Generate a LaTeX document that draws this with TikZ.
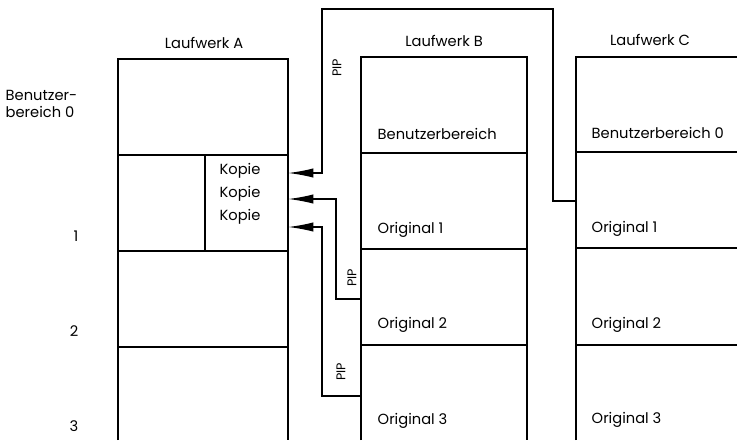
\documentclass[tikz,border=0pt]{standalone}
\usepackage{fontspec}
\setmainfont{Poppins}
\usetikzlibrary{arrows.meta,positioning}

\begin{document}
\begin{tikzpicture}[x=0.75pt,y=-0.75pt,line width=1.1pt,
  lbl/.style={font=\fontsize{11}{13}\selectfont,inner sep=0pt},
  pip/.style={-{Latex[length=19pt,width=7pt]}},
  piplbl/.style={rotate=90,inner sep=0pt,font=\fontsize{9.5}{11}\selectfont}]
\useasboundingbox (0,0) rectangle (737,440);

% Laufwerk A
\draw (118,440) -- (118,59) -- (288,59) -- (288,440);
\foreach \y in {155,251,347} \draw (118,\y) -- (288,\y);
\draw (205,155) -- (205,251);

% Laufwerk B
\draw (361,440) -- (361,57) -- (527,57) -- (527,440);
\foreach \y in {153,249,345} \draw (361,\y) -- (527,\y);

% Laufwerk C
\draw (576,440) -- (576,57) -- (737,57);
\foreach \y in {152,248,345} \draw (576,\y) -- (737,\y);

\node[lbl] (lwA) at (204,43) {Laufwerk A};
\node[lbl] (lwB) at (444,41) {Laufwerk B};
\node[lbl] (lwC) at (650,40) {Laufwerk C};

\node[lbl,align=left,anchor=west] (bb0) at (5,104) {Benutzer-\\bereich 0};
\node[lbl] (n1) at (76,236) {1};
\node[lbl] (n2) at (74,331) {2};
\node[lbl] (n3) at (74,426) {3};

\node[lbl] (kopie1) at (240,171) {Kopie};
\node[lbl] (kopie2) at (240,194) {Kopie};
\node[lbl] (kopie3) at (240,217) {Kopie};

\node[lbl,anchor=west] (bbB) at (377,134) {Benutzerbereich};
\node[lbl,anchor=west] (origB1) at (377,230) {Original 1};
\node[lbl,anchor=west] (origB2) at (377,325) {Original 2};
\node[lbl,anchor=west] (origB3) at (377,421) {Original 3};

\node[lbl,anchor=west] (bbC) at (591,133) {Benutzerbereich 0};
\node[lbl,anchor=west] (origC1) at (591,229) {Original 1};
\node[lbl,anchor=west] (origC2) at (591,325) {Original 2};
\node[lbl,anchor=west] (origC3) at (591,420) {Original 3};

% PIP Verbindungen
\coordinate (srcC) at (576,201);
\coordinate (srcB1) at (361,299);
\coordinate (srcB2) at (361,396);
\coordinate (dstA1) at (288,173);
\coordinate (dstA2) at (288,199);
\coordinate (dstA3) at (288,227);

\draw[pip] (srcC) -| (553,9) -| (322,173) -- (dstA1);
\draw[pip] (srcB1) -| (336,199) -- (dstA2);
\draw[pip] (srcB2) -| (322,227) -- (dstA3);

\node[piplbl] (pip1) at (337,68) {PIP};
\node[piplbl] (pip2) at (352,278) {PIP};
\node[piplbl] (pip3) at (341,372) {PIP};
\end{tikzpicture}
\end{document}
